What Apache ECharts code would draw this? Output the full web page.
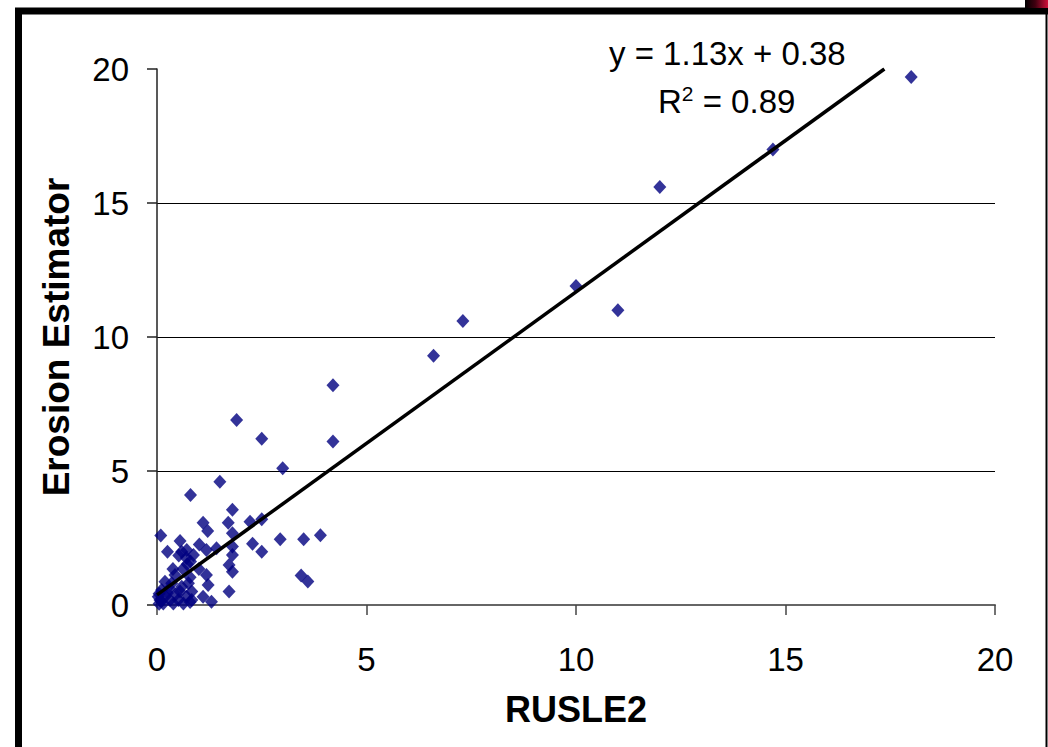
<!DOCTYPE html>
<html><head><meta charset="utf-8">
<script src="https://cdn.jsdelivr.net/npm/echarts@6/dist/echarts.min.js"></script>
<style>html,body{margin:0;padding:0;background:#fff}#c{width:1048px;height:747px}</style>
</head><body><div id="c"></div>
<script>
// RUSLE2 (x) vs Erosion Estimator (y)
const rusle2 = [18.0,14.7,12.0,10.0,11.0,7.3,6.6,4.2,4.2,1.9,2.5,3.0,1.5,0.8,
  1.8,1.1,1.7,2.22,2.5,1.21,1.8,0.09,0.55,1.01,2.28,2.5,0.25,0.59,0.71,0.87,1.18,1.42,1.8,1.8,2.94,3.5,3.9,
  1.72,1.8,1.72,3.44,3.6,0.52,0.7,0.8,0.72,1.18,1.22,1.1,1.3,0.43,0.35,0.19,0.11,0.59,0.75,0.83,0.71,0.83,
  0.51,0.31,0.07,0.03,0.15,0.39,0.63,1.0,0.38,0.62,0.79,0.79,0.05,0.2,0.1,0.25,0.45,0.55,0.3,0.05];
const erosionEstimator = [19.7,17.0,15.6,11.9,11.0,10.6,9.3,8.2,6.1,6.9,6.2,5.1,4.6,4.1,
  3.55,3.07,3.07,3.11,3.2,2.76,2.68,2.59,2.39,2.26,2.29,1.99,1.99,1.99,2.05,1.87,2.05,2.12,2.18,1.87,2.45,2.45,2.6,
  1.49,1.24,0.5,1.1,0.88,1.85,1.75,1.62,1.52,1.12,0.75,0.31,0.12,1.12,0.81,0.87,0.56,0.68,0.81,0.5,0.31,0.19,
  0.19,0.19,0.19,0.31,0.06,0.06,0.06,1.34,1.34,1.34,1.04,0.11,0.05,0.32,0.15,0.45,0.4,0.5,0.62,0.42];
// Linear trend line end points (y = 1.13x + 0.38)
const trendX = [0, 17.36];
const trendY = [0.38, 20];
const axisMin = 0, axisMax = 20, axisStep = 5;
const xTitle = 'RUSLE2';
const yTitle = 'Erosion Estimator';
const eqText = 'y = 1.13x + 0.38';

const FONT = '"Liberation Sans", Arial, sans-serif';
const chart = echarts.init(document.getElementById('c'), null, {renderer: 'svg'});
const pts = rusle2.map((x, i) => [x, erosionEstimator[i]]);
const trend = trendX.map((x, i) => [x, trendY[i]]);

chart.setOption({
  backgroundColor: '#fff',
  animation: false,
  grid: {left: 157, right: 53, top: 69, bottom: 142, containLabel: false},
  xAxis: {
    type: 'value', min: axisMin, max: axisMax, interval: axisStep,
    name: xTitle, nameLocation: 'middle', nameGap: 86,
    nameTextStyle: {fontFamily: FONT, fontSize: 36, fontWeight: 'bold', color: '#000'},
    axisLine: {show: true, lineStyle: {color: '#666', width: 2}},
    axisTick: {show: true, inside: false, length: 10, lineStyle: {color: '#444', width: 1.5}},
    axisLabel: {fontFamily: FONT, fontSize: 33, color: '#000', margin: 38},
    splitLine: {show: false}
  },
  yAxis: {
    type: 'value', min: axisMin, max: axisMax, interval: axisStep,
    name: yTitle, nameLocation: 'middle', nameGap: 82, nameRotate: 90,
    nameTextStyle: {fontFamily: FONT, fontSize: 37, fontWeight: 'bold', color: '#000'},
    axisLine: {show: true, lineStyle: {color: '#222', width: 1.5}},
    axisTick: {show: true, inside: false, length: 10, lineStyle: {color: '#222', width: 1.5}},
    axisLabel: {fontFamily: FONT, fontSize: 33, color: '#000', margin: 28},
    splitLine: {show: true, lineStyle: {color: ['rgba(0,0,0,0)', '#000', '#000', '#000', 'rgba(0,0,0,0)'], width: 1.2}}
  },
  series: [
    {
      type: 'scatter', data: pts, symbol: 'diamond', symbolSize: [13, 14],
      itemStyle: {color: '#000080'}, z: 2
    },
    {
      type: 'line', data: trend, showSymbol: false, symbol: 'none',
      lineStyle: {color: '#000', width: 3.5}, z: 3
    }
  ],
  graphic: [
    {type: 'rect', z: 100, silent: true, shape: {x: 18.5, y: 11, width: 1200, height: 1000},
      style: {fill: 'none', stroke: '#000', lineWidth: 7}},
    {type: 'line', z: 100, silent: true, shape: {x1: 1046.5, y1: 11, x2: 1046.5, y2: 747},
      style: {stroke: '#000', lineWidth: 2}},
    {type: 'rect', z: 100, silent: true, shape: {x: 1025, y: 0, width: 23, height: 8},
      style: {fill: new echarts.graphic.LinearGradient(0, 0, 1, 0, [{offset: 0, color: '#000'}, {offset: 0.45, color: '#400010'}, {offset: 1, color: '#d0103a'}])}},
    {type: 'text', z: 100, left: 609, top: 37,
      style: {text: eqText, fontFamily: FONT, fontSize: 33, fill: '#000'}},
    {type: 'text', z: 100, left: 658, top: 83,
      style: {text: '{a|R}{s|2}{a| = 0.89}', fontFamily: FONT, fill: '#000',
        rich: {a: {fontFamily: FONT, fontSize: 33, fill: '#000', verticalAlign: 'bottom'},
               s: {fontFamily: FONT, fontSize: 21, fill: '#000', verticalAlign: 'top', padding: [0, 0, 14, 0]}}}}
  ]
});
</script>
</body></html>
